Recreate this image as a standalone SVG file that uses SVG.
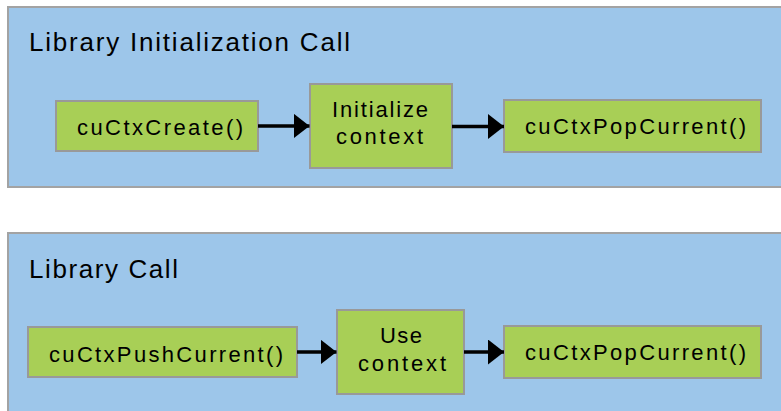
<svg xmlns="http://www.w3.org/2000/svg" width="781" height="411" viewBox="0 0 781 411">
<style>
.panel{fill:#9dc6ea;stroke:#a3a3a3;stroke-width:2}
.node{fill:#a8cf56;stroke:#999999;stroke-width:2}
.t{font-family:"Liberation Sans",Arial,sans-serif;fill:#000}
.title{font-size:26px}
.lbl{font-size:22px}
.conn{stroke:#000;stroke-width:3.5;fill:none;marker-end:url(#ah)}
</style>
<defs>
<marker id="ah" markerUnits="userSpaceOnUse" markerWidth="17" markerHeight="26" refX="16" refY="12.5" orient="auto" viewBox="0 0 17 26">
<path d="M0,0 L16,12.5 L0,25 Z" fill="#000"/>
</marker>
</defs>
<g id="panel-init">
<rect class="panel" x="8" y="7" width="785" height="180"/>
<text class="t title" x="29" y="51" textLength="321" lengthAdjust="spacing">Library Initialization Call</text>
</g>
<g id="panel-call">
<rect class="panel" x="8" y="233" width="785" height="190"/>
<text class="t title" x="29" y="278" textLength="149" lengthAdjust="spacing">Library Call</text>
</g>
<g id="node-create">
<rect class="node" x="56" y="101" width="202" height="50"/>
<text class="t lbl" x="77" y="135" textLength="166" lengthAdjust="spacing">cuCtxCreate()</text>
</g>
<g id="node-init">
<rect class="node" x="310" y="84" width="142" height="84"/>
<text class="t lbl" x="332" y="117" textLength="96" lengthAdjust="spacing">Initialize</text>
<text class="t lbl" x="336" y="144" textLength="87" lengthAdjust="spacing">context</text>
</g>
<g id="node-pop1">
<rect class="node" x="504" y="100" width="257" height="52"/>
<text class="t lbl" x="525" y="134" textLength="221" lengthAdjust="spacing">cuCtxPopCurrent()</text>
</g>
<g id="node-push">
<rect class="node" x="28" y="327" width="269" height="50"/>
<text class="t lbl" x="49" y="361.5" textLength="234" lengthAdjust="spacing">cuCtxPushCurrent()</text>
</g>
<g id="node-use">
<rect class="node" x="337" y="310" width="127" height="84"/>
<text class="t lbl" x="380" y="342.5" textLength="42" lengthAdjust="spacing">Use</text>
<text class="t lbl" x="358" y="370.5" textLength="88" lengthAdjust="spacing">context</text>
</g>
<g id="node-pop2">
<rect class="node" x="504" y="326" width="257" height="52"/>
<text class="t lbl" x="525" y="360" textLength="221" lengthAdjust="spacing">cuCtxPopCurrent()</text>
</g>
<g id="connectors">
<line class="conn" x1="258" y1="126" x2="309.5" y2="126"/>
<line class="conn" x1="452" y1="126.5" x2="504" y2="126.5"/>
<line class="conn" x1="297" y1="352" x2="336.5" y2="352"/>
<line class="conn" x1="464" y1="352" x2="504" y2="352"/>
</g>
</svg>
